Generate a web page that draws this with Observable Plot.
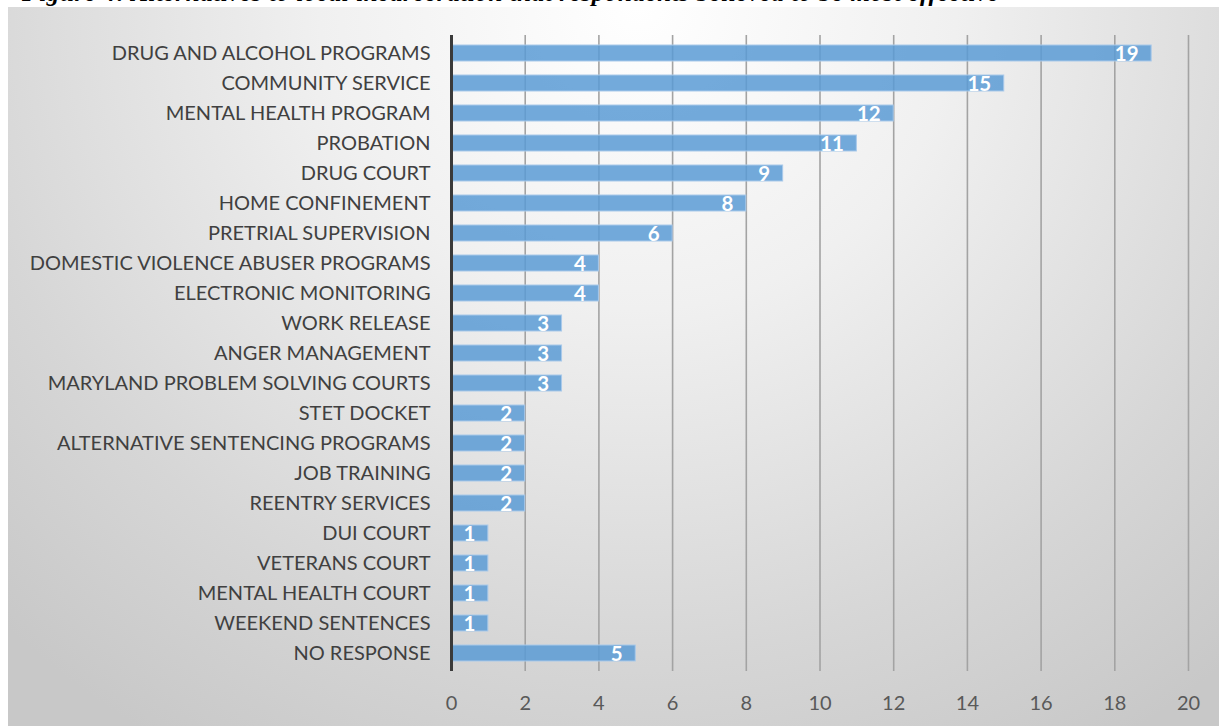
<!DOCTYPE html>
<html>
<head>
<meta charset="utf-8">
<script src="https://cdn.jsdelivr.net/npm/d3@7"></script>
<script src="https://cdn.jsdelivr.net/npm/@observablehq/plot@0.6"></script>
<style>
  html, body { margin: 0; padding: 0; background: #ffffff; width: 1219px; height: 726px; overflow: hidden; }
  #title { position: absolute; left: 0; top: 0; width: 1219px; height: 7px; overflow: hidden; }
  #title span { position: absolute; left: 22px; top: -21px; line-height: 24px; font: italic bold 25px "Liberation Serif", serif; color: #000; white-space: nowrap; letter-spacing: 0.6px; }
  #panel { position: absolute; left: 8px; top: 7px; width: 1211px; height: 719px;
    background: radial-gradient(ellipse 75% 120% at 52% 0%, #ffffff 0%, #f0f0f0 35%, #d6d6d6 75%, #c8c8c8 100%); }
  #panel svg { position: absolute; left: 0; top: 0; background: transparent; }
</style>
</head>
<body>
<div id="title"><span>Figure 4: Alternatives to local incarceration that respondents believed to be most effective</span></div>
<div id="panel"></div>
<script>
const categories = [
  "DRUG AND ALCOHOL PROGRAMS",
  "COMMUNITY SERVICE",
  "MENTAL HEALTH PROGRAM",
  "PROBATION",
  "DRUG COURT",
  "HOME CONFINEMENT",
  "PRETRIAL SUPERVISION",
  "DOMESTIC VIOLENCE ABUSER PROGRAMS",
  "ELECTRONIC MONITORING",
  "WORK RELEASE",
  "ANGER MANAGEMENT",
  "MARYLAND PROBLEM SOLVING COURTS",
  "STET DOCKET",
  "ALTERNATIVE SENTENCING PROGRAMS",
  "JOB TRAINING",
  "REENTRY SERVICES",
  "DUI COURT",
  "VETERANS COURT",
  "MENTAL HEALTH COURT",
  "WEEKEND SENTENCES",
  "NO RESPONSE"
];
const counts = [19, 15, 12, 11, 9, 8, 6, 4, 4, 3, 3, 3, 2, 2, 2, 2, 1, 1, 1, 1, 5];
const xTicks = [0, 2, 4, 6, 8, 10, 12, 14, 16, 18, 20];

const data = categories.map((c, i) => ({category: c, value: counts[i]}));
const font = "Lato, 'Open Sans', sans-serif";

const chart = Plot.plot({
  width: 1211,
  height: 711,
  marginLeft: 443,
  marginRight: 31,
  marginTop: 28,
  marginBottom: 47,
  style: {background: "transparent", fontFamily: font},
  x: {domain: [0, 20], ticks: xTicks, label: null},
  y: {domain: categories, paddingInner: 0.47, paddingOuter: 0.235, label: null},
  marks: [
    Plot.ruleX(xTicks.filter(d => d > 0), {stroke: "#a3a3a3", strokeWidth: 1.6}),
    Plot.barX(data, {x: "value", y: "category", fill: "#5b9bd5", fillOpacity: 0.85, stroke: "#a9c9ea", strokeWidth: 1}),
    Plot.text(data, {x: "value", y: "category", text: d => String(d.value), textAnchor: "end", dx: -13, dy: 1,
      fill: "#ffffff", fontWeight: "bold", fontSize: 20.5, fontFamily: font}),
    Plot.ruleX([0], {stroke: "#3a3a3a", strokeWidth: 3}),
    Plot.axisY({tickSize: 0, tickPadding: 21, fontSize: 20, fill: "#404040", label: null, fontFamily: font}),
    Plot.axisX({ticks: xTicks, tickSize: 0, tickPadding: 24, fontSize: 20, fill: "#595959", label: null, fontFamily: font})
  ]
});
document.getElementById("panel").appendChild(chart);
</script>
</body>
</html>
